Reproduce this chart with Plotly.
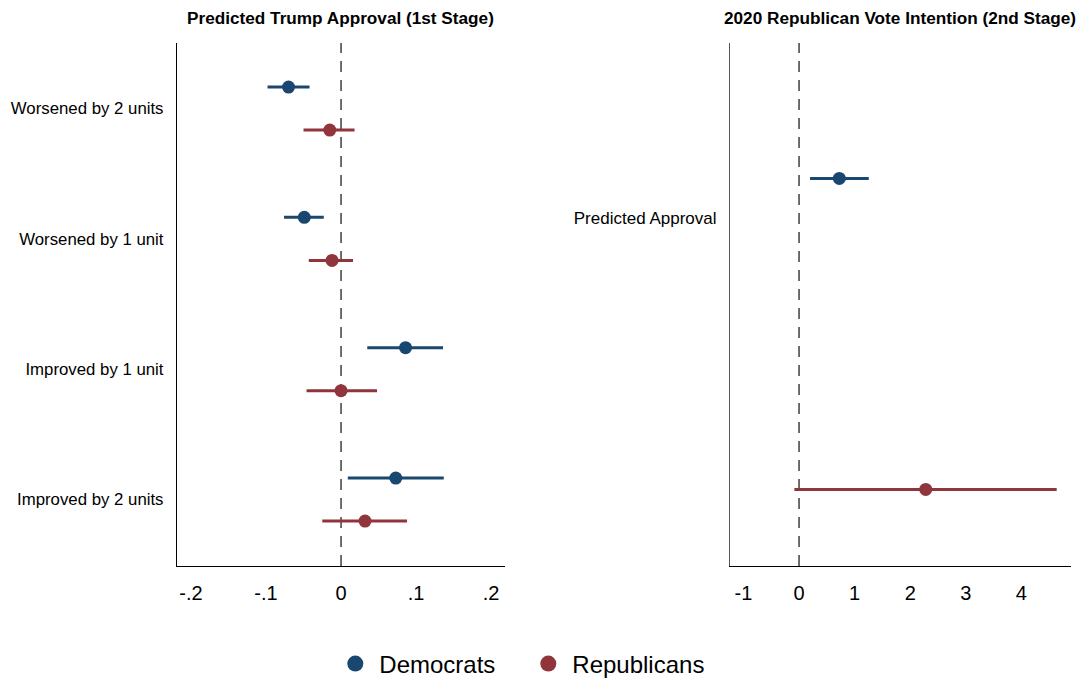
import plotly.graph_objects as go

# First stage: effect on predicted Trump approval
categories = ["Worsened by 2 units", "Worsened by 1 unit", "Improved by 1 unit", "Improved by 2 units"]
dem_est = [-0.070, -0.049, 0.086, 0.073]
dem_lo = [-0.098, -0.076, 0.035, 0.009]
dem_hi = [-0.042, -0.023, 0.136, 0.137]
rep_est = [-0.015, -0.012, 0.000, 0.032]
rep_lo = [-0.050, -0.043, -0.046, -0.025]
rep_hi = [0.018, 0.016, 0.048, 0.088]

# Second stage: effect of predicted approval on 2020 Republican vote intention
stage2_label = ["Predicted Approval"]
dem2_est = [0.725]
dem2_lo = [0.198]
dem2_hi = [1.254]
rep2_est = [2.279]
rep2_lo = [-0.084]
rep2_hi = [4.635]

x1_ticks = [-0.2, -0.1, 0, 0.1, 0.2]
x1_text = ["-.2", "-.1", "0", ".1", ".2"]
x2_ticks = [-1, 0, 1, 2, 3, 4]
x2_text = ["-1", "0", "1", "2", "3", "4"]

BLUE = "#1a476f"
RED = "#90353b"
FONT = "Liberation Sans, Arial, sans-serif"

fig = go.Figure()

pos = list(range(1, len(categories) + 1))
off = 0.165


def add_series(xs, lo, hi, ys, color, xaxis, yaxis):
    fig.add_trace(go.Scatter(
        x=xs, y=ys, mode="markers", showlegend=False,
        marker=dict(color=color, size=13, symbol="circle"),
        error_x=dict(type="data", symmetric=False,
                     array=[h - e for h, e in zip(hi, xs)],
                     arrayminus=[e - l for e, l in zip(xs, lo)],
                     color=color, thickness=3, width=0),
        xaxis=xaxis, yaxis=yaxis,
    ))


add_series(dem_est, dem_lo, dem_hi, [p - off for p in pos], BLUE, "x", "y")
add_series(rep_est, rep_lo, rep_hi, [p + off for p in pos], RED, "x", "y")
add_series(dem2_est, dem2_lo, dem2_hi, [1.536], BLUE, "x2", "y2")
add_series(rep2_est, rep2_lo, rep2_hi, [3.922], RED, "x2", "y2")

# Legend entries
for name, color in (("Democrats", BLUE), ("Republicans", RED)):
    fig.add_trace(go.Scatter(x=[None], y=[None], mode="markers", name=name,
                             marker=dict(color=color, size=16), showlegend=True))

# Reference lines at zero
for xa, ya in (("x", "y"), ("x2", "y2")):
    fig.add_shape(type="line", xref=xa, yref=f"{ya} domain", x0=0, x1=0, y0=0, y1=1,
                  line=dict(color="#222222", width=1.3, dash="11px,8px"), layer="below")

y_range = [4.51, 0.497]
dom_y = [0.1664, 0.9367]

axis_common = dict(showgrid=False, zeroline=False, showline=True,
                   linewidth=1.3, ticks="", fixedrange=True)

fig.update_layout(
    width=1088, height=679,
    margin=dict(l=0, r=0, t=0, b=0, autoexpand=False),
    paper_bgcolor="white", plot_bgcolor="white",
    font=dict(family=FONT, color="#000000"),
    xaxis=dict(domain=[0.1627, 0.4642], range=[-0.2187, 0.2187], tickvals=x1_ticks, ticktext=x1_text,
               tickfont=dict(size=20), ticklabelstandoff=9, anchor="y", linecolor="#000000", **axis_common),
    yaxis=dict(domain=dom_y, range=y_range, tickvals=pos, ticktext=categories,
               tickfont=dict(size=16.8), ticklabelstandoff=9, anchor="x", linecolor="#000000", **axis_common),
    xaxis2=dict(domain=[0.671, 0.9841], range=[-1.241, 4.887], tickvals=x2_ticks, ticktext=x2_text,
                tickfont=dict(size=20), ticklabelstandoff=9, anchor="y2", linecolor="#000000", **axis_common),
    yaxis2=dict(domain=dom_y, range=y_range, tickvals=[1.84], ticktext=stage2_label,
                tickfont=dict(size=17), ticklabelstandoff=9, anchor="x2", linecolor="#555555", **axis_common),
    legend=dict(orientation="h", x=0.4819, xanchor="center", y=1 - 664 / 679, yanchor="middle",
                font=dict(size=24), itemsizing="trace", itemwidth=38, tracegroupgap=0,
                entrywidth=140, entrywidthmode="pixels",
                bgcolor="rgba(0,0,0,0)"),
    showlegend=True,
)

fig.add_annotation(text="<b>Predicted Trump Approval (1st Stage)</b>", xref="paper", yref="paper",
                   x=0.3134, y=1 - 18 / 679, xanchor="center", yanchor="middle",
                   showarrow=False, font=dict(size=17.2, family=FONT))
fig.add_annotation(text="<b>2020 Republican Vote Intention (2nd Stage)</b>", xref="paper", yref="paper",
                   x=0.8274, y=1 - 18 / 679, xanchor="center", yanchor="middle",
                   showarrow=False, font=dict(size=17.2, family=FONT))

fig.write_html("out.html")
